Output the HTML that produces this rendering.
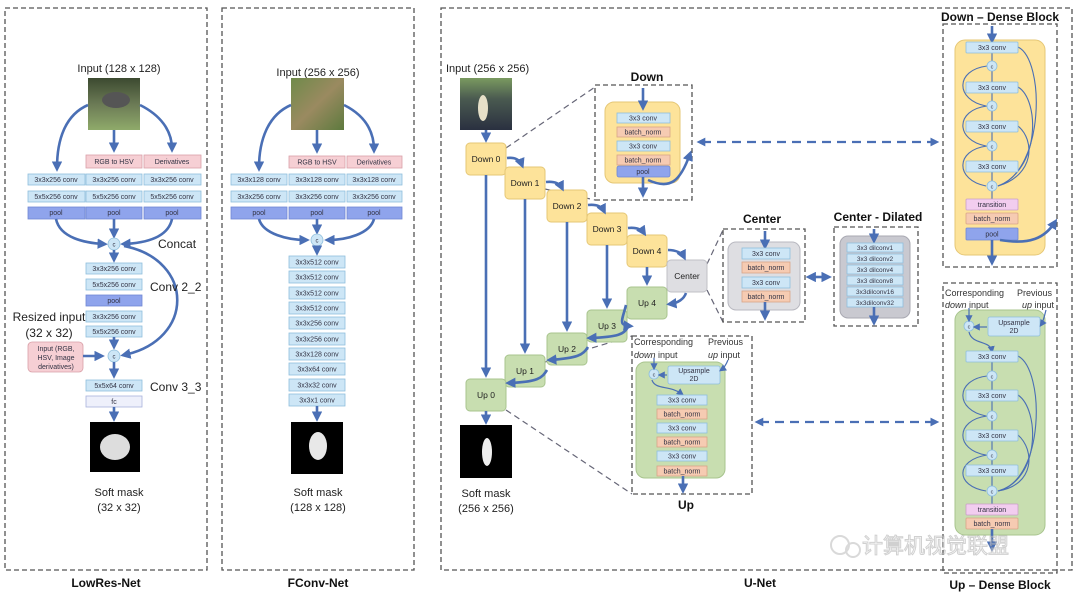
<!DOCTYPE html>
<html><head><meta charset="utf-8"><style>
html,body{margin:0;padding:0;background:#fff;width:1080px;height:592px;overflow:hidden}
svg{display:block;font-family:"Liberation Sans","Noto Sans CJK SC",sans-serif}
.c{fill:#cde6f6;stroke:#8fbfdc;stroke-width:.8}
.p{fill:#f6cfd4;stroke:#d9a0a8;stroke-width:.8}
.pl{fill:#8fa4ec;stroke:#7088d4;stroke-width:.8}
.bn{fill:#f6cbb2;stroke:#d9a488;stroke-width:.8}
.tr{fill:#f2cdef;stroke:#c9a0c6;stroke-width:.8}
.fc{fill:#eef0fb;stroke:#a8b2dc;stroke-width:.8}
.t{font-size:7px;fill:#334;text-anchor:middle}
.d{fill:none;stroke:#555;stroke-width:1.3;stroke-dasharray:5 3}
.a{fill:none;stroke:#4a6fb5;stroke-width:2.6;marker-end:url(#ah)}
.a2{fill:none;stroke:#4a6fb5;stroke-width:1.2;marker-end:url(#ah2)}
.cc{fill:#cde6f6;stroke:#8fbfdc;stroke-width:.8}
.lb{font-size:11px;fill:#222;text-anchor:middle}
.ti{font-size:12px;font-weight:bold;fill:#111;text-anchor:middle}
.nd{font-size:8.5px;fill:#222;text-anchor:middle}
.dl{fill:none;stroke:#667;stroke-width:1.2;stroke-dasharray:6 4}
.da{fill:none;stroke:#4a6fb5;stroke-width:2.2;stroke-dasharray:9 6}
</style></head><body>
<svg width="1080" height="592" viewBox="0 0 1080 592">
<defs>
<marker id="ah" markerWidth="4" markerHeight="4" refX="2.5" refY="2" orient="auto"><path d="M0,0 L4,2 L0,4z" fill="#4a6fb5"/></marker>
<marker id="ah2" markerWidth="6" markerHeight="6" refX="4" refY="3" orient="auto"><path d="M0,0 L6,3 L0,6z" fill="#4a6fb5"/></marker>
<marker id="ahs" markerWidth="4" markerHeight="4" refX="1.5" refY="2" orient="auto-start-reverse"><path d="M0,0 L4,2 L0,4z" fill="#4a6fb5"/></marker>
<linearGradient id="g1" x1="0" y1="0" x2="0" y2="1"><stop offset="0" stop-color="#3c4a30"/><stop offset=".5" stop-color="#6b7a55"/><stop offset="1" stop-color="#8faa6a"/></linearGradient>
<linearGradient id="g2" x1="0" y1="0" x2="1" y2="1"><stop offset="0" stop-color="#6f8a4a"/><stop offset=".5" stop-color="#9a8a60"/><stop offset="1" stop-color="#5d7a3e"/></linearGradient>
<linearGradient id="g3" x1="0" y1="0" x2="0" y2="1"><stop offset="0" stop-color="#7a9a60"/><stop offset=".4" stop-color="#4a5a50"/><stop offset="1" stop-color="#2a3040"/></linearGradient>
</defs>

<rect class="d" x="5" y="8" width="202" height="562"/>
<rect class="d" x="222" y="8" width="192" height="562"/>
<rect class="d" x="441" y="8" width="631" height="562"/>
<text x="106" y="587" class="ti">LowRes-Net</text>
<text x="318" y="587" class="ti">FConv-Net</text>
<text x="760" y="587" class="ti">U-Net</text>

<!-- LowRes -->
<text x="119" y="72" class="lb">Input (128 x 128)</text>
<rect x="88" y="78" width="52" height="52" fill="url(#g1)"/>
<ellipse cx="116" cy="100" rx="14" ry="8" fill="#555"/>
<path class="a" d="M88,105 C65,115 57,140 57,168"/>
<path class="a" d="M114,130 L114,149"/>
<path class="a" d="M140,105 C160,115 172,130 172,149"/>
<rect class="p" x="86" y="155" width="56" height="13"/><text class="t" x="114" y="164">RGB to HSV</text>
<rect class="p" x="144" y="155" width="57" height="13"/><text class="t" x="172" y="164">Derivatives</text>
<g>
<rect class="c" x="28" y="174" width="57" height="11"/><text class="t" x="56" y="182">3x3x256 conv</text>
<rect class="c" x="86" y="174" width="56" height="11"/><text class="t" x="114" y="182">3x3x256 conv</text>
<rect class="c" x="144" y="174" width="57" height="11"/><text class="t" x="172" y="182">3x3x256 conv</text>
<rect class="c" x="28" y="191" width="57" height="11"/><text class="t" x="56" y="199">5x5x256 conv</text>
<rect class="c" x="86" y="191" width="56" height="11"/><text class="t" x="114" y="199">5x5x256 conv</text>
<rect class="c" x="144" y="191" width="57" height="11"/><text class="t" x="172" y="199">5x5x256 conv</text>
<rect class="pl" x="28" y="207" width="57" height="12"/><text class="t" x="56" y="215">pool</text>
<rect class="pl" x="86" y="207" width="56" height="12"/><text class="t" x="114" y="215">pool</text>
<rect class="pl" x="144" y="207" width="57" height="12"/><text class="t" x="172" y="215">pool</text>
</g>
<path class="a" d="M56,219 C60,238 85,243 104,244"/>
<path class="a" d="M114,219 L114,235"/>
<path class="a" d="M172,219 C168,238 145,243 124,244"/>
<circle class="cc" cx="114" cy="244" r="6"/><text class="t" x="114" y="246.5" style="font-size:6px">c</text>
<text x="158" y="248" class="lb" style="text-anchor:start;font-size:12px">Concat</text>
<path class="a" d="M114,250 L114,259"/>
<path class="a" d="M124,246 C195,260 195,340 124,355"/>
<rect class="c" x="86" y="263" width="56" height="11"/><text class="t" x="114" y="271">3x3x256 conv</text>
<rect class="c" x="86" y="279" width="56" height="11"/><text class="t" x="114" y="287">5x5x256 conv</text>
<rect class="pl" x="86" y="295" width="56" height="11"/><text class="t" x="114" y="303">pool</text>
<rect class="c" x="86" y="311" width="56" height="11"/><text class="t" x="114" y="319">3x3x256 conv</text>
<rect class="c" x="86" y="326" width="56" height="11"/><text class="t" x="114" y="334">5x5x256 conv</text>
<text x="150" y="291" class="lb" style="text-anchor:start;font-size:12px">Conv 2_2</text>
<text x="49" y="321" class="lb" style="font-size:12px">Resized input</text>
<text x="49" y="337" class="lb" style="font-size:12px">(32 x 32)</text>
<rect class="p" x="28" y="342" width="55" height="30" rx="4"/>
<text class="t" x="56" y="351">Input (RGB,</text><text class="t" x="56" y="360">HSV, Image</text><text class="t" x="56" y="369">derivatives)</text>
<path class="a" d="M83,356 L101,356"/>
<path class="a" d="M114,337 L114,346"/>
<circle class="cc" cx="114" cy="356" r="6"/><text class="t" x="114" y="358.5" style="font-size:6px">c</text>
<path class="a" d="M114,362 L114,375"/>
<rect class="c" x="86" y="380" width="56" height="11"/><text class="t" x="114" y="388">5x5x64 conv</text>
<rect class="fc" x="86" y="396" width="56" height="11"/><text class="t" x="114" y="404">fc</text>
<text x="150" y="391" class="lb" style="text-anchor:start;font-size:12px">Conv 3_3</text>
<path class="a" d="M114,407 L114,418"/>
<rect x="90" y="422" width="50" height="50" fill="#000"/>
<ellipse cx="115" cy="447" rx="15" ry="13" fill="#ddd"/>
<text x="119" y="496" class="lb">Soft mask</text>
<text x="119" y="511" class="lb">(32 x 32)</text>

<!-- FConv -->
<text x="318" y="76" class="lb">Input (256 x 256)</text>
<rect x="291" y="78" width="53" height="52" fill="url(#g2)"/>
<path class="a" d="M291,105 C268,115 259,140 259,168"/>
<path class="a" d="M317,130 L317,150"/>
<path class="a" d="M344,105 C364,115 374,130 374,150"/>
<rect class="p" x="289" y="156" width="56" height="12"/><text class="t" x="317" y="164.5">RGB to HSV</text>
<rect class="p" x="347" y="156" width="55" height="12"/><text class="t" x="374" y="164.5">Derivatives</text>
<rect class="c" x="231" y="174" width="56" height="11"/><text class="t" x="259" y="182">3x3x128 conv</text>
<rect class="c" x="289" y="174" width="56" height="11"/><text class="t" x="317" y="182">3x3x128 conv</text>
<rect class="c" x="347" y="174" width="55" height="11"/><text class="t" x="374" y="182">3x3x128 conv</text>
<rect class="c" x="231" y="191" width="56" height="11"/><text class="t" x="259" y="199">3x3x256 conv</text>
<rect class="c" x="289" y="191" width="56" height="11"/><text class="t" x="317" y="199">3x3x256 conv</text>
<rect class="c" x="347" y="191" width="55" height="11"/><text class="t" x="374" y="199">3x3x256 conv</text>
<rect class="pl" x="231" y="207" width="56" height="12"/><text class="t" x="259" y="215">pool</text>
<rect class="pl" x="289" y="207" width="56" height="12"/><text class="t" x="317" y="215">pool</text>
<rect class="pl" x="347" y="207" width="55" height="12"/><text class="t" x="374" y="215">pool</text>
<path class="a" d="M259,219 C263,234 288,240 306,240"/>
<path class="a" d="M317,219 L317,231"/>
<path class="a" d="M374,219 C370,234 346,240 328,240"/>
<circle class="cc" cx="317" cy="240" r="6"/><text class="t" x="317" y="242.5" style="font-size:6px">c</text>
<path class="a" d="M317,246 L317,252"/>
<g>
<rect class="c" x="289" y="256" width="56" height="12"/><text class="t" x="317" y="264.5">3x3x512 conv</text>
<rect class="c" x="289" y="271" width="56" height="12"/><text class="t" x="317" y="279.5">3x3x512 conv</text>
<rect class="c" x="289" y="287" width="56" height="12"/><text class="t" x="317" y="295.5">3x3x512 conv</text>
<rect class="c" x="289" y="302" width="56" height="12"/><text class="t" x="317" y="310.5">3x3x512 conv</text>
<rect class="c" x="289" y="317" width="56" height="12"/><text class="t" x="317" y="325.5">3x3x256 conv</text>
<rect class="c" x="289" y="333" width="56" height="12"/><text class="t" x="317" y="341.5">3x3x256 conv</text>
<rect class="c" x="289" y="348" width="56" height="12"/><text class="t" x="317" y="356.5">3x3x128 conv</text>
<rect class="c" x="289" y="363" width="56" height="12"/><text class="t" x="317" y="371.5">3x3x64 conv</text>
<rect class="c" x="289" y="379" width="56" height="12"/><text class="t" x="317" y="387.5">3x3x32 conv</text>
<rect class="c" x="289" y="394" width="56" height="12"/><text class="t" x="317" y="402.5">3x3x1 conv</text>
</g>
<path class="a" d="M317,406 L317,418"/>
<rect x="291" y="422" width="52" height="52" fill="#000"/>
<ellipse cx="318" cy="446" rx="9" ry="14" fill="#e8e8e8"/>
<text x="318" y="496" class="lb">Soft mask</text>
<text x="318" y="511" class="lb">(128 x 128)</text>

<!-- U-Net main -->
<text x="446" y="72" class="lb" style="text-anchor:start">Input (256 x 256)</text>
<rect x="460" y="78" width="52" height="52" fill="url(#g3)"/>
<ellipse cx="483" cy="108" rx="5" ry="13" fill="#e6e0c8"/>
<path class="a" d="M486,130 L486,139"/>
<path class="dl" d="M506,148 L595,87"/>
<path class="dl" d="M545,189 L595,200"/>
<path class="dl" d="M707,264 L723,230"/>
<path class="dl" d="M707,290 L723,322"/>
<path class="dl" d="M525,368 L632,336"/>
<path class="dl" d="M506,410 L632,494"/>
<g class="nd">
<rect x="466" y="143" width="40" height="32" rx="4" fill="#fde39a" stroke="#e5c776"/><text x="486" y="162">Down 0</text>
<rect x="505" y="167" width="40" height="32" rx="4" fill="#fde39a" stroke="#e5c776"/><text x="525" y="186">Down 1</text>
<rect x="547" y="190" width="40" height="32" rx="4" fill="#fde39a" stroke="#e5c776"/><text x="567" y="209">Down 2</text>
<rect x="587" y="213" width="40" height="32" rx="4" fill="#fde39a" stroke="#e5c776"/><text x="607" y="232">Down 3</text>
<rect x="627" y="235" width="40" height="32" rx="4" fill="#fde39a" stroke="#e5c776"/><text x="647" y="254">Down 4</text>
<rect x="667" y="260" width="40" height="32" rx="4" fill="#dedee2" stroke="#c0c0c6"/><text x="687" y="279">Center</text>
<rect x="627" y="287" width="40" height="32" rx="4" fill="#c8deb0" stroke="#a8c48e"/><text x="647" y="306">Up 4</text>
<rect x="587" y="310" width="40" height="32" rx="4" fill="#c8deb0" stroke="#a8c48e"/><text x="607" y="329">Up 3</text>
<rect x="547" y="333" width="40" height="32" rx="4" fill="#c8deb0" stroke="#a8c48e"/><text x="567" y="352">Up 2</text>
<rect x="505" y="355" width="40" height="32" rx="4" fill="#c8deb0" stroke="#a8c48e"/><text x="525" y="374">Up 1</text>
<rect x="466" y="379" width="40" height="32" rx="4" fill="#c8deb0" stroke="#a8c48e"/><text x="486" y="398">Up 0</text>
</g>
<path class="a" d="M507,158 C515,157 520,160 522,165"/>
<path class="a" d="M546,182 C555,181 560,184 562,188"/>
<path class="a" d="M588,205 C597,204 602,207 604,211"/>
<path class="a" d="M628,228 C637,227 642,230 644,233"/>
<path class="a" d="M668,250 C676,250 682,253 684,257"/>
<path class="a" d="M686,293 C684,299 678,303 670,304"/>
<path class="a" d="M626,305 C622,321 618,325 630,326"/>
<path class="a" d="M628,327 C624,334 619,337 590,338 "/>
<path class="a" d="M588,347 C583,355 578,358 550,360"/>
<path class="a" d="M547,370 C542,378 538,382 509,383"/>
<path class="a" d="M486,175 L486,374"/>
<path class="a" d="M525,199 L525,350"/>
<path class="a" d="M567,222 L567,328"/>
<path class="a" d="M607,245 L607,305"/>
<path class="a" d="M647,267 L647,282"/>
<path class="a" d="M486,411 L486,421"/>
<rect x="460" y="425" width="52" height="53" fill="#000"/>
<ellipse cx="487" cy="452" rx="5" ry="14" fill="#eee"/>
<text x="486" y="497" class="lb">Soft mask</text>
<text x="486" y="512" class="lb">(256 x 256)</text>

<!-- Down block -->
<text x="647" y="81" class="ti">Down</text>
<rect class="d" x="595" y="85" width="97" height="115"/>
<rect x="605" y="102" width="75" height="81" rx="9" fill="#fde39a" stroke="#e5c776"/>
<path class="a" d="M643,88 L643,107"/>
<rect class="c" x="617" y="113" width="53" height="10"/><text class="t" x="643" y="120.5">3x3 conv</text>
<rect class="bn" x="617" y="127" width="53" height="10"/><text class="t" x="643" y="134.5">batch_norm</text>
<rect class="c" x="617" y="141" width="53" height="10"/><text class="t" x="643" y="148.5">3x3 conv</text>
<rect class="bn" x="617" y="155" width="53" height="10"/><text class="t" x="643" y="162.5">batch_norm</text>
<rect class="pl" x="617" y="166" width="53" height="11" rx="2"/><text class="t" x="643" y="174">pool</text>
<path class="a" d="M643,177 L643,194"/>
<path class="a" d="M648,180 C670,190 680,182 690,154"/>
<path class="da" d="M702,142 L936,142" marker-start="url(#ahs)" marker-end="url(#ah)"/>

<!-- Center -->
<text x="762" y="223" class="ti">Center</text>
<rect class="d" x="723" y="229" width="82" height="93"/>
<rect x="728" y="242" width="72" height="68" rx="8" fill="#dedee2" stroke="#b8b8c0"/>
<path class="a" d="M765,231 L765,246"/>
<rect class="c" x="742" y="248" width="48" height="11"/><text class="t" x="766" y="256">3x3 conv</text>
<rect class="bn" x="742" y="262" width="48" height="11"/><text class="t" x="766" y="270">batch_norm</text>
<rect class="c" x="742" y="277" width="48" height="11"/><text class="t" x="766" y="285">3x3 conv</text>
<rect class="bn" x="742" y="291" width="48" height="11"/><text class="t" x="766" y="299">batch_norm</text>
<path class="a" d="M765,302 L765,317"/>
<path d="M812,277 L828,277" stroke="#4a6fb5" stroke-width="2.6" marker-start="url(#ahs)" marker-end="url(#ah)"/>
<text x="878" y="221" class="ti">Center - Dilated</text>
<rect class="d" x="834" y="227" width="84" height="99"/>
<rect x="840" y="236" width="70" height="82" rx="8" fill="#c9c9d0" stroke="#a9a9b2"/>
<path class="a" d="M874,229 L874,240"/>
<g>
<rect class="c" x="847" y="243" width="56" height="9"/><text class="t" x="875" y="250" style="font-size:6.5px">3x3 dilconv1</text>
<rect class="c" x="847" y="254" width="56" height="9"/><text class="t" x="875" y="261" style="font-size:6.5px">3x3 dilconv2</text>
<rect class="c" x="847" y="265" width="56" height="9"/><text class="t" x="875" y="272" style="font-size:6.5px">3x3 dilconv4</text>
<rect class="c" x="847" y="276" width="56" height="9"/><text class="t" x="875" y="283" style="font-size:6.5px">3x3 dilconv8</text>
<rect class="c" x="847" y="287" width="56" height="9"/><text class="t" x="875" y="294" style="font-size:6.5px">3x3dilconv16</text>
<rect class="c" x="847" y="298" width="56" height="9"/><text class="t" x="875" y="305" style="font-size:6.5px">3x3dilconv32</text>
</g>
<path class="a" d="M874,307 L874,322"/>

<!-- Up block -->
<rect class="d" x="632" y="336" width="120" height="158"/>
<text x="634" y="345" style="font-size:9px;fill:#333">Corresponding</text>
<text x="634" y="358" style="font-size:9px;fill:#333"><tspan font-style="italic">down</tspan> input</text>
<text x="708" y="345" style="font-size:9px;fill:#333">Previous</text>
<text x="708" y="358" style="font-size:9px;fill:#333"><tspan font-style="italic">up</tspan> input</text>
<text x="686" y="509" class="ti">Up</text>
<rect x="636" y="362" width="89" height="116" rx="9" fill="#c8deb0" stroke="#a8c48e"/>
<path class="a2" d="M652,380 C655,390 670,385 682,394"/>
<rect class="c" x="668" y="366" width="52" height="18" rx="2"/><text class="t" x="694" y="373">Upsample</text><text class="t" x="694" y="381">2D</text>
<circle class="cc" cx="654" cy="374" r="5"/><text class="t" x="654" y="376.5" style="font-size:5.5px">c</text>
<path class="a2" d="M667,375 L660,375"/>
<path class="a2" d="M654,358 L654,368"/>
<path class="a2" d="M728,360 C726,365 724,368 721,370"/>
<rect class="c" x="657" y="395" width="50" height="10"/><text class="t" x="682" y="402.5">3x3 conv</text>
<rect class="bn" x="657" y="409" width="50" height="10"/><text class="t" x="682" y="416.5">batch_norm</text>
<rect class="c" x="657" y="423" width="50" height="10"/><text class="t" x="682" y="430.5">3x3 conv</text>
<rect class="bn" x="657" y="437" width="50" height="10"/><text class="t" x="682" y="444.5">batch_norm</text>
<rect class="c" x="657" y="451" width="50" height="10"/><text class="t" x="682" y="458.5">3x3 conv</text>
<rect class="bn" x="657" y="466" width="50" height="10"/><text class="t" x="682" y="473.5">batch_norm</text>
<path class="a" d="M683,476 L683,490"/>
<path class="da" d="M760,422 L936,422" marker-start="url(#ahs)" marker-end="url(#ah)"/>

<!-- Down Dense -->
<text x="1000" y="21" class="ti">Down – Dense Block</text>
<rect class="d" x="943" y="24" width="114" height="243"/>
<rect x="955" y="40" width="90" height="215" rx="10" fill="#fde39a" stroke="#e5c776"/>
<path class="a" d="M992,26 L992,40"/>
<g fill="none" stroke="#4a6fb5" stroke-width="1.1">
<path d="M992,53 V181 M992,191 V199"/>
<path d="M987,66 C955,70 955,100 986,106"/>
<path d="M987,106 C955,110 955,140 986,146"/>
<path d="M987,146 C955,150 955,180 986,186"/>
<path d="M1018,47 C1045,60 1045,170 998,186"/>
<path d="M1018,87 C1040,100 1040,170 998,186"/>
<path d="M1018,126 C1035,140 1035,175 998,186"/>
</g>
<g>
<rect class="c" x="966" y="42" width="52" height="11" rx="1"/><text class="t" x="992" y="50">3x3 conv</text>
<rect class="c" x="966" y="82" width="52" height="11" rx="1"/><text class="t" x="992" y="90">3x3 conv</text>
<rect class="c" x="966" y="121" width="52" height="11" rx="1"/><text class="t" x="992" y="129">3x3 conv</text>
<rect class="c" x="966" y="161" width="52" height="11" rx="1"/><text class="t" x="992" y="169">3x3 conv</text>
</g>
<g>
<circle class="cc" cx="992" cy="66" r="5"/><circle class="cc" cx="992" cy="106" r="5"/><circle class="cc" cx="992" cy="146" r="5"/><circle class="cc" cx="992" cy="186" r="5"/>
<text class="t" x="992" y="68.5" style="font-size:5.5px">c</text><text class="t" x="992" y="108.5" style="font-size:5.5px">c</text><text class="t" x="992" y="148.5" style="font-size:5.5px">c</text><text class="t" x="992" y="188.5" style="font-size:5.5px">c</text>
</g>
<rect class="tr" x="966" y="199" width="52" height="11" rx="1"/><text class="t" x="992" y="207">transition</text>
<rect class="bn" x="966" y="213" width="52" height="11" rx="1"/><text class="t" x="992" y="221">batch_norm</text>
<rect class="pl" x="966" y="228" width="52" height="12" rx="1"/><text class="t" x="992" y="236.5">pool</text>
<path class="a" d="M992,240 L992,262"/>
<path class="a" d="M1000,240 C1030,245 1045,238 1055,222"/>

<!-- Up Dense -->
<rect class="d" x="943" y="283" width="114" height="290"/>
<text x="945" y="296" style="font-size:9px;fill:#333">Corresponding</text>
<text x="945" y="308" style="font-size:9px;fill:#333"><tspan font-style="italic">down</tspan> input</text>
<text x="1017" y="296" style="font-size:9px;fill:#333">Previous</text>
<text x="1022" y="308" style="font-size:9px;fill:#333"><tspan font-style="italic">up</tspan> input</text>
<rect x="955" y="310" width="90" height="225" rx="10" fill="#c8deb0" stroke="#a8c48e"/>
<g fill="none" stroke="#4a6fb5" stroke-width="1.1">
<path d="M992,362 V505"/>
<path d="M987,376 C955,380 955,410 986,416"/>
<path d="M987,416 C955,420 955,450 986,455"/>
<path d="M987,455 C955,460 955,486 986,491"/>
<path d="M1018,356 C1045,370 1045,480 998,491"/>
<path d="M1018,395 C1040,410 1040,480 998,491"/>
<path d="M1018,435 C1035,450 1035,485 998,491"/>
</g>
<path class="a2" d="M969,332 C972,345 990,340 992,351"/>
<rect class="c" x="988" y="317" width="52" height="19" rx="2"/><text class="t" x="1014" y="325">Upsample</text><text class="t" x="1014" y="333">2D</text>
<circle class="cc" cx="969" cy="326" r="5"/><text class="t" x="969" y="328.5" style="font-size:5.5px">c</text>
<path class="a2" d="M987,327 L975,327"/>
<path class="a2" d="M969,308 L969,320"/>
<path class="a2" d="M1046,310 C1044,318 1043,322 1041,325"/>
<g>
<rect class="c" x="966" y="351" width="52" height="11" rx="1"/><text class="t" x="992" y="359">3x3 conv</text>
<rect class="c" x="966" y="390" width="52" height="11" rx="1"/><text class="t" x="992" y="398">3x3 conv</text>
<rect class="c" x="966" y="430" width="52" height="11" rx="1"/><text class="t" x="992" y="438">3x3 conv</text>
<rect class="c" x="966" y="465" width="52" height="11" rx="1"/><text class="t" x="992" y="473">3x3 conv</text>
</g>
<g>
<circle class="cc" cx="992" cy="376" r="5"/><circle class="cc" cx="992" cy="416" r="5"/><circle class="cc" cx="992" cy="455" r="5"/><circle class="cc" cx="992" cy="491" r="5"/>
<text class="t" x="992" y="378.5" style="font-size:5.5px">c</text><text class="t" x="992" y="418.5" style="font-size:5.5px">c</text><text class="t" x="992" y="457.5" style="font-size:5.5px">c</text><text class="t" x="992" y="493.5" style="font-size:5.5px">c</text>
</g>
<rect class="tr" x="966" y="504" width="52" height="11" rx="1"/><text class="t" x="992" y="512">transition</text>
<rect class="bn" x="966" y="518" width="52" height="11" rx="1"/><text class="t" x="992" y="526">batch_norm</text>
<path class="a" d="M992,529 L992,548"/>
<text x="1000" y="589" class="ti">Up – Dense Block</text>

<g opacity="0.55">
<circle cx="840" cy="545" r="9" fill="none" stroke="#bbb" stroke-width="2"/>
<circle cx="853" cy="550" r="7" fill="none" stroke="#bbb" stroke-width="2"/>
<text x="862" y="553" style="font-size:21px;fill:#fff;stroke:#aaa;stroke-width:1">计算机视觉联盟</text>
</g>
</svg>
</body></html>
